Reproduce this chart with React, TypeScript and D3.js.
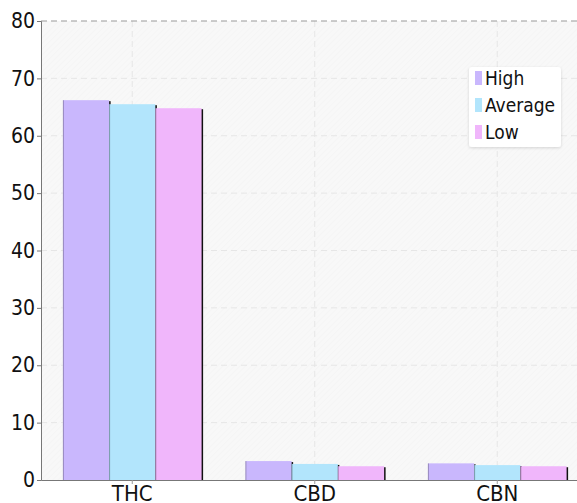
import React, { useRef, useEffect } from 'react';
import * as d3 from 'd3';

const categories = ['THC', 'CBD', 'CBN'];
const seriesNames = ['High', 'Average', 'Low'];
const highValues = [66.2, 3.3, 2.9];
const averageValues = [65.5, 2.8, 2.6];
const lowValues = [64.8, 2.4, 2.4];
const yTicks = [0, 10, 20, 30, 40, 50, 60, 70, 80];
const colors = ['#c9b7fd', '#b2e5fc', '#f0b6fb'];

export default function App() {
  const svgRef = useRef<SVGSVGElement>(null);

  useEffect(() => {
    if (!svgRef.current) return;
    const svg = d3.select(svgRef.current);
    svg.selectAll('*').remove();

    const margin = { top: 21, left: 41, bottom: 23 };
    const H = 503;
    const plotRight = 588.5;
    const plotBottom = H - margin.bottom;
    const font = '"DejaVu Sans Condensed", "DejaVu Sans", Verdana, sans-serif';

    const x = d3.scaleBand().domain(categories).range([margin.left, plotRight]).paddingInner(0.24).paddingOuter(0.12);
    const xCenter = d3.scaleBand().domain(categories).range([margin.left, plotRight]);
    const xSub = d3.scaleBand().domain(seriesNames).range([0, x.bandwidth()]);
    const y = d3.scaleLinear().domain([0, 80]).range([plotBottom, margin.top]);

    const defs = svg.append('defs');
    const pat = defs.append('pattern').attr('id', 'hatch').attr('width', 4).attr('height', 4)
      .attr('patternUnits', 'userSpaceOnUse').attr('patternTransform', 'rotate(45)');
    pat.append('rect').attr('width', 4).attr('height', 4).attr('fill', '#f8f8f8');
    pat.append('line').attr('x1', 0).attr('y1', 0).attr('x2', 0).attr('y2', 4).attr('stroke', '#f2f2f2').attr('stroke-width', 1);
    const filt = defs.append('filter').attr('id', 'lshadow').attr('x', '-20%').attr('y', '-20%').attr('width', '140%').attr('height', '140%');
    filt.append('feDropShadow').attr('dx', 0).attr('dy', 1).attr('stdDeviation', 1.5).attr('flood-color', '#000').attr('flood-opacity', 0.15);

    // background
    svg.append('rect').attr('x', margin.left).attr('y', margin.top)
      .attr('width', plotRight - margin.left).attr('height', plotBottom - margin.top).attr('fill', 'url(#hatch)');

    // grid
    const grid = svg.append('g');
    grid.selectAll('line.h').data(yTicks.filter(t => t > 0 && t < 80)).enter().append('line')
      .attr('x1', margin.left).attr('x2', plotRight).attr('y1', d => y(d)).attr('y2', d => y(d))
      .attr('stroke', '#e6e6e6').attr('stroke-dasharray', '6 4');
    grid.selectAll('line.v').data(categories).enter().append('line')
      .attr('x1', d => xCenter(d)! + xCenter.bandwidth() / 2).attr('x2', d => xCenter(d)! + xCenter.bandwidth() / 2)
      .attr('y1', margin.top).attr('y2', plotBottom)
      .attr('stroke', '#e6e6e6').attr('stroke-dasharray', '6 4');
    svg.append('line').attr('x1', margin.left).attr('x2', plotRight).attr('y1', y(80)).attr('y2', y(80))
      .attr('stroke', '#999').attr('stroke-dasharray', '6 4');

    // bars
    const rows = categories.map((c, i) => ({ cat: c, vals: [highValues[i], averageValues[i], lowValues[i]] }));
    const groups = svg.append('g').selectAll('g').data(rows).enter().append('g')
      .attr('transform', d => `translate(${x(d.cat)},0)`);
    groups.each(function (d) {
      const g = d3.select(this);
      d.vals.forEach((v, j) => {
        const bx = xSub(seriesNames[j])!;
        g.append('rect').attr('x', bx + 1.5).attr('y', y(v) + 1).attr('width', xSub.bandwidth())
          .attr('height', plotBottom - y(v) - 1).attr('fill', '#111');
        g.append('rect').attr('x', bx).attr('y', y(v)).attr('width', xSub.bandwidth())
          .attr('height', plotBottom - y(v)).attr('fill', colors[j]);
        g.append('line').attr('x1', bx + 0.5).attr('x2', bx + 0.5).attr('y1', y(v)).attr('y2', plotBottom)
          .attr('stroke', '#000').attr('stroke-opacity', 0.25);
      });
    });

    // axes
    const yAxis = svg.append('g').attr('transform', `translate(${margin.left},0)`)
      .call(d3.axisLeft(y).tickValues(yTicks).tickSize(4).tickPadding(2));
    yAxis.select('.domain').attr('stroke', '#777');
    yAxis.selectAll('.tick line').attr('stroke', '#777');
    yAxis.selectAll('text').attr('fill', '#111').style('font-size', '21px').style('font-family', font);

    const xAxis = svg.append('g').attr('transform', `translate(0,${plotBottom})`)
      .call(d3.axisBottom(xCenter).tickSize(4).tickSizeOuter(0).tickPadding(1));
    xAxis.select('.domain').attr('stroke', '#777');
    xAxis.selectAll('.tick line').attr('stroke', '#999');
    xAxis.selectAll('text').attr('fill', '#111').style('font-size', '22px').style('font-family', font);

    // legend
    const lg = svg.append('g').attr('transform', 'translate(469,67)');
    lg.append('rect').attr('width', 92).attr('height', 80).attr('rx', 3).attr('fill', '#fff').attr('filter', 'url(#lshadow)');
    seriesNames.forEach((s, i) => {
      const ry = 11 + i * 27;
      lg.append('rect').attr('x', 6).attr('y', ry - 7).attr('width', 7).attr('height', 14).attr('fill', colors[i]);
      lg.append('text').attr('x', 16).attr('y', ry).attr('dy', '0.35em').attr('fill', '#111')
        .style('font-size', '19px').style('font-family', font).text(s);
    });
  }, []);

  return (
    <svg ref={svgRef} width={577} height={503} style={{ position: 'fixed', left: 0, top: 0, background: '#fff' }} />
  );
}
